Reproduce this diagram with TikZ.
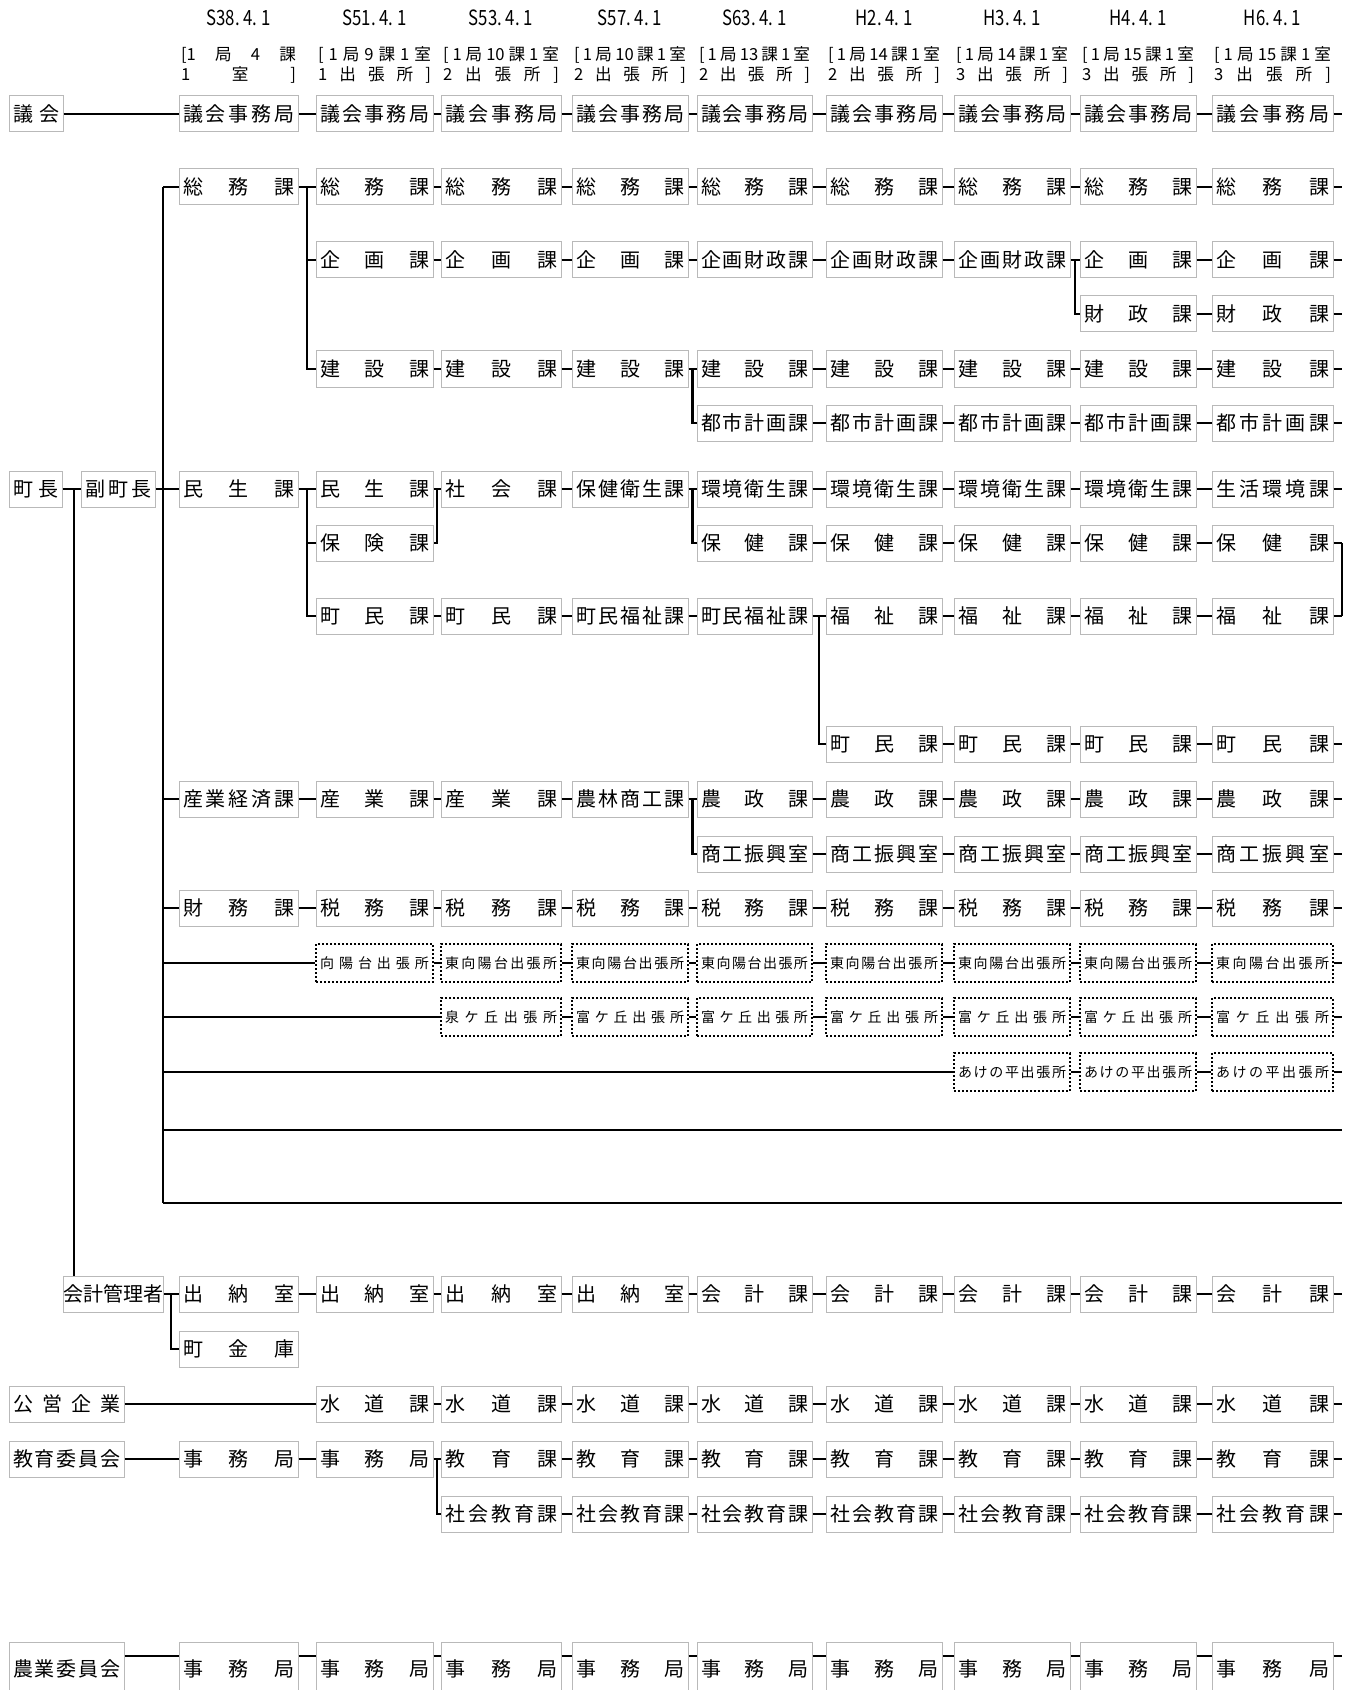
\documentclass[tikz,border=0pt]{standalone}
\usepackage{fontspec}
\setmainfont{Noto Sans CJK JP}
\newfontfamily\datefont[FakeStretch=0.8]{Noto Sans CJK JP}
\usepackage{tikz}
\usetikzlibrary{calc}

\makeatletter
\newcommand\spreadlist[1]{\def\spsep{}\@tfor\spch:=#1\do{\spsep\spch\def\spsep{\hfill}}}
\makeatother
\newcommand\spread[1]{\edef\sptmp{#1}\expandafter\spreadlist\expandafter{\sptmp}}

\def\colx{{238.5,374.5,501,630,754.5,884,1012,1138,1272.5}}
\def\colw{{119,117,120,116,115,116,116,116,121}}

\newcommand\orgbox[5][]{%
  \pgfmathsetmacro\boxcx{\colx[#3]}%
  \pgfmathsetmacro\boxtw{\colw[#3]*0.5-4}%
  \node[orgunit, #1, text width=\boxtw pt] (#2-#3) at (\boxcx,#4) {\spread{#5}};}

\begin{document}
\begin{tikzpicture}[
    x=0.5pt, y=-0.5pt,
    orgunit/.style={draw=gray!55, line width=0.5pt, minimum height=18pt, inner xsep=2pt, inner ysep=0pt, font=\fontsize{10}{12}\selectfont},
    office/.style={draw=black, dash pattern=on 1pt off 1pt, line width=0.9pt, minimum height=19pt, font=\fontsize{7}{8}\selectfont},
    era/.style={inner sep=0pt, font=\datefont\fontsize{10.5}{12}\selectfont},
    tally/.style={inner sep=0pt, font=\fontsize{8.3}{9}\selectfont},
    wire/.style={line width=1.1pt}
]
    \useasboundingbox (0,0) rectangle (1355,1690);
    \clip (0,0) rectangle (1355,1690);

    % headings
    \foreach \c/\d in {0/S38,1/S51,2/S53,3/S57,4/S63,5/H2,6/H3,7/H4,8/H6} {
        \pgfmathsetmacro\boxcx{\colx[\c]}
        \node[era] (era-\c) at (\boxcx,18) {\d.\ 4.\ 1};
    }
    \foreach \c/\p/\q in {0/{[1}局4課/1室],1/[1局9課1室/1出張所],2/[1局{10}課1室/2出張所],3/[1局{10}課1室/2出張所],4/[1局{13}課1室/2出張所],5/[1局{14}課1室/2出張所],6/[1局{14}課1室/3出張所],7/[1局{15}課1室/3出張所],8/[1局{15}課1室/3出張所]} {
        \pgfmathsetmacro\boxcx{\colx[\c]}
        \pgfmathsetmacro\boxtw{\colw[\c]*0.5-2}
        \node[tally, text width=\boxtw pt] (tally-\c-a) at (\boxcx,55) {\spread{\p}};
        \node[tally, text width=\boxtw pt] (tally-\c-b) at (\boxcx,75) {\spread{\q}};
    }

    % left column
    \node[orgunit, text width=23pt] (gikaihead) at (36,114) {\spread{議会}};
    \node[orgunit, text width=22.5pt] (cho) at (35.5,489) {\spread{町長}};
    \node[orgunit, text width=33pt] (fuku) at (118,489) {\spread{副町長}};
    \node[orgunit, text width=50pt, inner xsep=0pt] (kaikeikanri) at (113,1294) {\spread{会計管理者}};
    \node[orgunit, text width=53.5pt] (koei) at (66.5,1404) {\spread{公営企業}};
    \node[orgunit, text width=53.5pt] (kyoikuiin) at (66.5,1459) {\spread{教育委員会}};
    \node[orgunit, text width=53.5pt, anchor=north, minimum height=26pt] (nogyoiin) at (66.5,1642) {\spread{農業委員会}};

    % sections by year
    \foreach \c in {0,...,8} {\orgbox{gikai}{\c}{114}{議会事務局}}
    \foreach \c in {0,...,8} {\orgbox{somu}{\c}{187}{総務課}}
    \foreach \c/\t in {1/企画課,2/企画課,3/企画課,4/企画財政課,5/企画財政課,6/企画財政課,7/企画課,8/企画課} {\orgbox{kikaku}{\c}{260}{\t}}
    \foreach \c in {7,8} {\orgbox{zaisei}{\c}{314}{財政課}}
    \foreach \c in {1,...,8} {\orgbox{kensetsu}{\c}{369}{建設課}}
    \foreach \c in {4,...,8} {\orgbox{toshi}{\c}{423}{都市計画課}}
    \foreach \c/\t in {0/民生課,1/民生課,2/社会課,3/保健衛生課,4/環境衛生課,5/環境衛生課,6/環境衛生課,7/環境衛生課,8/生活環境課} {\orgbox{minsei}{\c}{489}{\t}}
    \foreach \c/\t in {1/保険課,4/保健課,5/保健課,6/保健課,7/保健課,8/保健課} {\orgbox{hoken}{\c}{543}{\t}}
    \foreach \c/\t in {1/町民課,2/町民課,3/町民福祉課,4/町民福祉課,5/福祉課,6/福祉課,7/福祉課,8/福祉課} {\orgbox{chomin}{\c}{616}{\t}}
    \foreach \c in {5,...,8} {\orgbox{chomintwo}{\c}{744}{町民課}}
    \foreach \c/\t in {0/産業経済課,1/産業課,2/産業課,3/農林商工課,4/農政課,5/農政課,6/農政課,7/農政課,8/農政課} {\orgbox{sangyo}{\c}{799}{\t}}
    \foreach \c in {4,...,8} {\orgbox{shoko}{\c}{854}{商工振興室}}
    \foreach \c/\t in {0/財務課,1/税務課,2/税務課,3/税務課,4/税務課,5/税務課,6/税務課,7/税務課,8/税務課} {\orgbox{zeimu}{\c}{908}{\t}}
    \foreach \c/\t in {1/向陽台出張所,2/東向陽台出張所,3/東向陽台出張所,4/東向陽台出張所,5/東向陽台出張所,6/東向陽台出張所,7/東向陽台出張所,8/東向陽台出張所} {\orgbox[office]{koyo}{\c}{963}{\t}}
    \foreach \c/\t in {2/泉ケ丘出張所,3/富ケ丘出張所,4/富ケ丘出張所,5/富ケ丘出張所,6/富ケ丘出張所,7/富ケ丘出張所,8/富ケ丘出張所} {\orgbox[office]{izumi}{\c}{1017}{\t}}
    \foreach \c in {6,7,8} {\orgbox[office]{akeno}{\c}{1072}{あけの平出張所}}
    \foreach \c/\t in {0/出納室,1/出納室,2/出納室,3/出納室,4/会計課,5/会計課,6/会計課,7/会計課,8/会計課} {\orgbox{kaikei}{\c}{1294}{\t}}
    \orgbox{kinko}{0}{1349}{町金庫}
    \foreach \c in {1,...,8} {\orgbox{suido}{\c}{1404}{水道課}}
    \foreach \c/\t in {0/事務局,1/事務局,2/教育課,3/教育課,4/教育課,5/教育課,6/教育課,7/教育課,8/教育課} {\orgbox{kyoiku}{\c}{1459}{\t}}
    \foreach \c in {2,...,8} {\orgbox{shakai}{\c}{1514}{社会教育課}}
    \foreach \c in {0,...,8} {\orgbox[anchor=north, minimum height=26pt]{nogyo}{\c}{1642}{事務局}}

    \coordinate (rim) at (1342,0);
    \coordinate (trunk-top) at (163,187);
    \coordinate (trunk-bot) at (163,1203);
    \coordinate (blank-a) at (163,1130);
    \coordinate (cho-fork) at (74,489);
    \coordinate (nogyo-line) at (0,1656);

    % straight links
    \foreach \r/\s in {gikai/0,somu/0,kikaku/1,zaisei/7,kensetsu/1,toshi/4,minsei/0,hoken/4,chomin/1,chomintwo/5,sangyo/0,shoko/4,zeimu/0,koyo/1,izumi/2,akeno/6,kaikei/0,suido/1,kyoiku/0,shakai/2} {
        \foreach \a in {\s,...,7} {
            \pgfmathtruncatemacro\b{\a+1}
            \draw[wire] (\r-\a.east) -- (\r-\b.west);
        }
        \draw[wire] (\r-8.east) -- (\r-8.east -| rim);
    }
    \foreach \a in {0,...,7} {
        \pgfmathtruncatemacro\b{\a+1}
        \draw[wire] (nogyo-\a.east |- nogyo-line) -- (nogyo-\b.west |- nogyo-line);
    }
    \draw[wire] (nogyo-8.east |- nogyo-line) -- (rim |- nogyo-line);
    \draw[wire] (nogyoiin.east |- nogyo-line) -- (nogyo-0.west |- nogyo-line);

    \draw[wire] (gikaihead.east) -- (gikai-0.west);
    \draw[wire] (cho.east) -- (fuku.west);
    \draw[wire] (fuku.east) -- (minsei-0.west);
    \draw[wire] (cho-fork) -- (cho-fork |- kaikeikanri.north);
    \draw[wire] (kaikeikanri.east) -- (kaikei-0.west);
    \draw[wire] (koei.east) -- (suido-1.west);
    \draw[wire] (kyoikuiin.east) -- (kyoiku-0.west);

    % trunk
    \draw[wire] (trunk-top) -- (trunk-bot);
    \draw[wire] (trunk-top) -- (somu-0.west);
    \foreach \n in {sangyo-0,zeimu-0,koyo-1,izumi-2,akeno-6}
        \draw[wire] (\n.west -| trunk-top) -- (\n.west);
    \draw[wire] (blank-a) -- (blank-a -| rim);
    \draw[wire] (trunk-bot) -- (trunk-bot -| rim);

    % forks
    \draw[wire] ($(somu-0.east)!.5!(somu-1.west)$) |- (kikaku-1.west);
    \draw[wire] ($(somu-0.east)!.5!(somu-1.west)$) |- (kensetsu-1.west);
    \draw[wire] ($(minsei-0.east)!.5!(minsei-1.west)$) |- (hoken-1.west);
    \draw[wire] ($(minsei-0.east)!.5!(minsei-1.west)$) |- (chomin-1.west);
    \draw[wire] ($(minsei-1.east)!.5!(minsei-2.west)$) |- (hoken-1.east);
    \draw[wire] ($(kensetsu-3.east)!.5!(kensetsu-4.west)$) |- (toshi-4.west);
    \draw[wire] ($(minsei-3.east)!.5!(minsei-4.west)$) |- (hoken-4.west);
    \draw[wire] ($(sangyo-3.east)!.5!(sangyo-4.west)$) |- (shoko-4.west);
    \draw[wire] ($(chomin-4.east)!.5!(chomin-5.west)$) |- (chomintwo-5.west);
    \draw[wire] ($(kikaku-6.east)!.5!(kikaku-7.west)$) |- (zaisei-7.west);
    \draw[wire] ($(kyoiku-1.east)!.5!(kyoiku-2.west)$) |- (shakai-2.west);
    \draw[wire] ($(kaikeikanri.east)!.5!(kaikei-0.west)$) |- (kinko-0.west);
    \draw[wire] (hoken-8.east -| rim) -- (chomin-8.east -| rim);
\end{tikzpicture}
\end{document}
